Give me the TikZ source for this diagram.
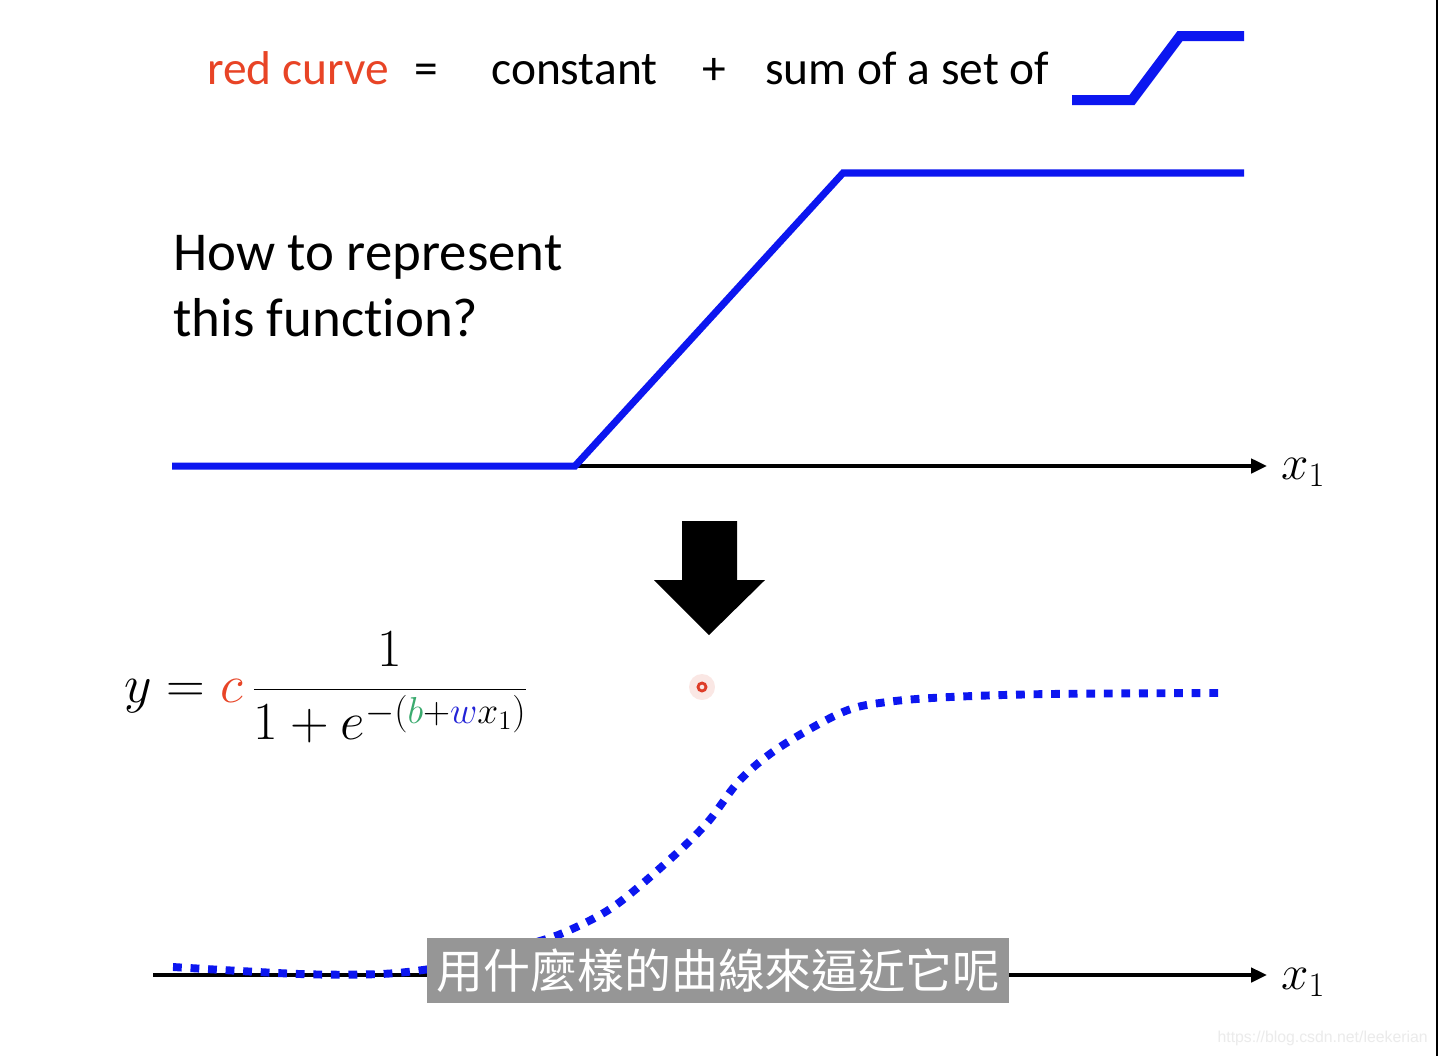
\RequirePackage{fix-cm}
\documentclass[tikz,border=0pt]{standalone}
\usepackage{fontspec}
\setmainfont{Carlito}[Ligatures=NoCommon]
\newfontfamily\cjkfont{Noto Sans CJK TC}
\newfontfamily\markfont{Liberation Sans}
\usepackage{tikz}
\usetikzlibrary{arrows.meta}
\definecolor{slRed}{RGB}{232,68,38}
\definecolor{slBlue}{RGB}{12,22,240}
\definecolor{slGreen}{RGB}{58,170,110}
\definecolor{slW}{RGB}{35,35,215}
\definecolor{subGray}{RGB}{150,150,150}
\definecolor{markGray}{RGB}{235,235,235}
\definecolor{dotRed}{RGB}{222,60,40}

\begin{document}
\begin{tikzpicture}[x=0.02cm,y=-0.02cm,
  slide/.style={font=\fontsize{27}{32}\selectfont,inner sep=0pt,anchor=base west},
  question/.style={font=\fontsize{31.2}{37.6}\selectfont,inner sep=0pt,anchor=base west},
  axislab/.style={font=\fontsize{28}{30}\selectfont,inner sep=0pt,anchor=base west},
  rampline/.style={draw=slBlue,line width=4pt,line join=miter},
  axisline/.style={draw=black,line width=2.2pt,-{Triangle[length=9pt,width=8pt]}},
  sigline/.style={draw=slBlue,line width=4.5pt,dash pattern=on 5pt off 5pt},
  subbox/.style={fill=subGray,text=white,font=\cjkfont\fontsize{26.7}{30}\selectfont,
                 inner xsep=5.5pt,inner ysep=0pt,minimum height=37pt}]
\useasboundingbox[fill=white] (0,0) rectangle (1439,1056);

% ===== TOP: red curve = constant + sum of ramps =====
\node[slide,text=slRed] (redc) at (207,84) {red curve};
\node[slide] (eqsign) at (414,84) {=};
\node[slide] (const) at (491,84) {constant};
\node[slide] (plussign) at (702,84) {+};
\node[slide] (sumset) at (765,84) {sum of a set of};
\draw[rampline,line width=5.7pt] (1072,100) -- (1132,100) -- (1180,36) -- (1244,36);

% ===== MIDDLE: hard sigmoid =====
\node[question] (howto1) at (173,270) {How to represent};
\node[question] (howto2) at (173,336) {this function?};
\draw[axisline] (172,466) -- (1267,466);
\draw[rampline] (172,466) -- (575,466) -- (843,173) -- (1244,173);
\node[axislab] (xa) at (1281,479) {$x_1$};

% big down arrow
\fill (682,521) -- (737,521) -- (737,580) -- (765,580) -- (709,635)
      -- (654,580) -- (682,580) -- cycle;
% pointer dot
\fill[dotRed,opacity=0.12] (702,687) circle (13);
\draw[dotRed,line width=1.6pt] (702,687) circle (4);

% ===== BOTTOM: sigmoid =====
\node[font=\fontsize{30.5}{36}\selectfont,inner sep=0pt,anchor=west] (sig) at (124,687)
   {$\displaystyle y = {\color{slRed}c}\,\frac{1}{1+e^{-({\color{slGreen}b}+{\color{slW}w}x_1)}}$};
\draw[axisline] (153,975) -- (1267,975);
\draw[sigline] plot[smooth,tension=0.55] coordinates {
  (173,967) (300,974) (380,974) (430,969) (480,960) (523,946) (563,933)
  (613,907) (667,862) (707,823) (740,780) (780,747) (843,712) (887,702)
  (950,697) (1050,694) (1218,693)};
\node[axislab] (xb) at (1281,989) {$x_1$};

% subtitle + watermark
\node[subbox] (sub) at (718,970.5) {用什麼樣的曲線來逼近它呢};
\node[font=\markfont\fontsize{9}{11}\selectfont,text=markGray,inner sep=0pt,anchor=east]
   (mark) at (1428,1038) {https://blog.csdn.net/leekerian};
\draw[line width=1.2pt] (1437,0) -- (1437,1056);
\end{tikzpicture}
\end{document}
